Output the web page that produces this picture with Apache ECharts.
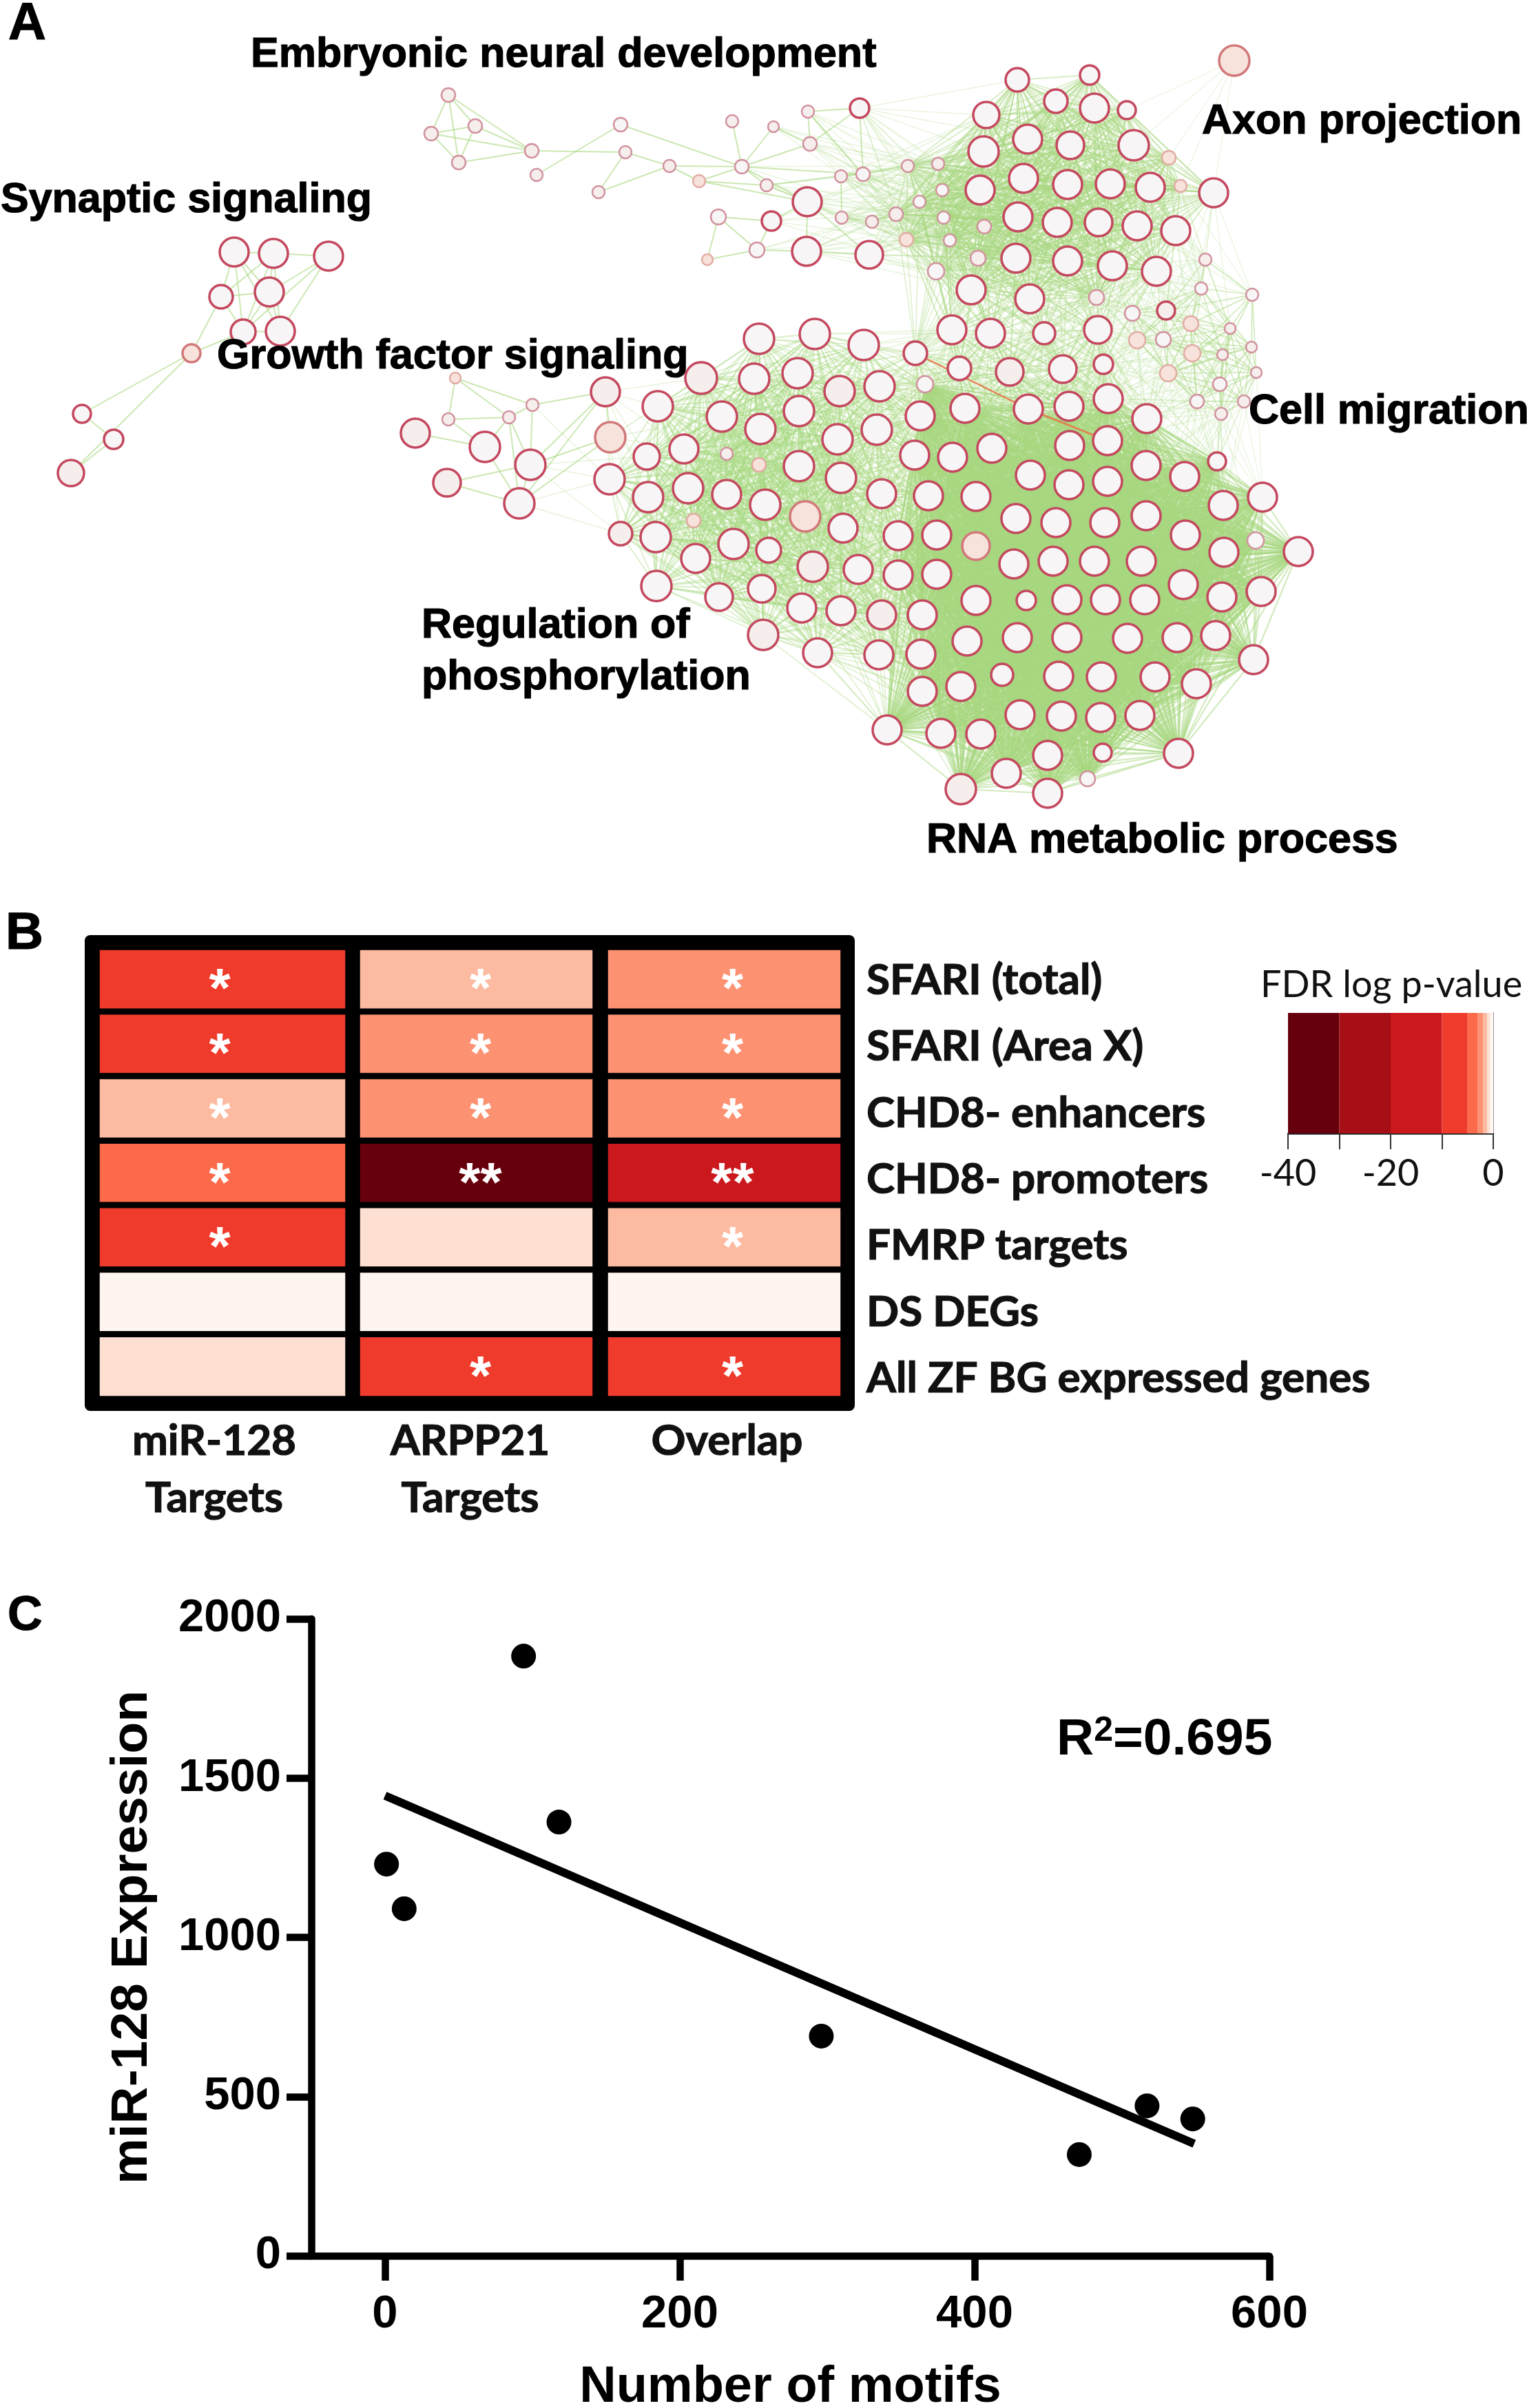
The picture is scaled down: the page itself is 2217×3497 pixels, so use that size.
<!DOCTYPE html>
<html><head><meta charset="utf-8">
<style>html,body{margin:0;padding:0;background:#fff}#c{width:2217px;height:3497px}</style>
<script src="https://cdn.jsdelivr.net/npm/echarts@6/dist/echarts.min.js"></script>
</head><body><div id="c"></div>
<script>
// ---------- Panel A: network nodes: [x, y, size, shade]
const embryonic=[[651,138,10,1],[690,183,10,1],[626,194,10,1],[772,219,10,1],[666,236,10,1],[779,254,9,1],[901,181,10,0],[908,221,9,1],[972,241,9,1],[1015,263,9,2],[869,279,9,1],[1063,176,9,1],[1077,242,10,0],[1123,184,8,1],[1173,162,9,1],[1248,157,14,0],[1176,209,10,1],[1113,269,9,1],[1221,256,9,1],[1253,253,10,0],[1043,315,11,0],[1027,377,8,2],[1120,321,14,0],[1099,363,11,0],[1172,293,21,0],[1171,365,21,0],[1262,370,20,0],[1222,316,9,1],[1266,322,9,1]];
const embryonicLinks=[[0,1],[0,2],[0,3],[0,4],[1,2],[1,3],[1,4],[2,3],[2,4],[3,4],[5,6],[6,12],[3,7],[7,8],[7,10],[8,10],[8,9],[8,12],[9,17],[11,12],[12,13],[12,16],[13,16],[14,15],[14,16],[14,19],[15,16],[15,19],[12,19],[12,17],[9,24],[20,22],[20,21],[20,23],[21,23],[22,23],[23,25],[22,24],[24,25],[25,26],[24,27],[18,27],[24,26],[27,28],[12,24],[17,24],[17,18],[18,19],[9,12]];
const synaptic=[[340,366,21,0],[397,368,21,0],[477,372,21,0],[321,431,17,0],[391,424,21,0],[353,482,18,0],[407,481,21,0],[278,513,13,2],[119,601,13,0],[165,638,14,0],[103,687,19,1]];
const synapticLinks=[[0,1],[1,2],[0,3],[0,4],[0,5],[0,6],[1,3],[1,4],[1,5],[1,6],[2,4],[2,6],[2,5],[3,4],[3,5],[3,7],[4,5],[4,6],[5,6],[5,7],[7,8],[7,10],[8,9],[9,10]];
const growth=[[661,549,8,2],[773,588,9,1],[739,606,9,1],[651,609,9,1],[879,569,21,1],[603,629,21,1],[704,649,22,0],[886,635,22,2],[770,675,22,0],[649,701,20,1],[754,731,22,0]];
const growthLinks=[[0,2],[0,3],[0,1],[1,2],[1,4],[2,3],[3,6],[5,6],[2,6],[2,8],[1,8],[2,10],[4,7],[4,8],[4,10],[7,10],[7,8],[9,8],[9,10],[8,10],[6,10]];
const phospho=[[1018,549,23,1],[1102,492,22,0],[1183,485,22,0],[1254,501,22,0],[1095,550,22,0],[1158,542,22,0],[1219,568,22,1],[1277,561,22,0],[955,590,22,0],[1048,605,22,0],[1104,623,22,0],[1160,597,22,0],[1216,638,22,0],[1273,624,22,0],[939,663,19,0],[993,652,21,0],[1055,659,9,1],[1102,675,10,2],[1160,677,22,0],[1221,694,22,0],[1280,717,21,0],[885,696,22,0],[941,722,22,0],[999,709,22,0],[1055,718,21,0],[1111,733,22,0],[1169,750,22,2],[1224,767,21,0],[1007,756,10,2],[901,775,17,1],[952,780,22,0],[1065,790,22,0],[1116,799,18,0],[1010,811,21,0],[1180,823,22,1],[1246,827,21,0],[953,851,22,0],[1044,867,20,0],[1106,855,20,0],[1164,883,21,0],[1221,887,21,0],[1108,922,22,1],[1187,948,21,0],[1280,893,21,1],[1276,951,21,0]];
const rna=[[1343,558,12,0],[1336,604,21,0],[1401,593,21,0],[1493,594,21,0],[1552,590,21,0],[1609,579,21,0],[1665,608,21,0],[1328,661,21,0],[1383,664,21,0],[1440,651,21,0],[1553,647,21,0],[1608,640,21,0],[1348,720,21,0],[1417,721,21,0],[1496,690,21,0],[1552,704,21,0],[1608,699,21,0],[1664,676,21,0],[1720,692,21,0],[1767,670,13,0],[1776,734,21,0],[1833,722,21,0],[1304,778,21,0],[1360,777,21,0],[1475,753,21,0],[1533,759,21,0],[1604,759,21,0],[1664,749,21,0],[1721,777,21,0],[1777,802,21,0],[1823,785,12,0],[1885,801,21,0],[1417,793,20,2],[1472,819,21,0],[1529,815,21,0],[1589,815,21,0],[1657,815,21,0],[1718,849,21,0],[1774,867,21,0],[1831,859,21,0],[1304,835,21,0],[1360,834,21,0],[1417,872,21,0],[1490,872,14,0],[1549,871,21,0],[1605,871,21,0],[1662,871,21,0],[1339,893,21,0],[1404,931,21,0],[1477,926,21,0],[1549,926,21,0],[1637,927,21,0],[1709,926,21,0],[1765,923,21,0],[1820,958,21,0],[1337,950,21,0],[1339,1004,21,0],[1395,997,21,0],[1455,980,16,0],[1537,982,21,0],[1599,983,21,0],[1677,983,21,0],[1737,993,21,0],[1481,1038,21,0],[1541,1040,21,0],[1598,1042,21,0],[1655,1039,21,0],[1288,1060,21,0],[1366,1065,21,0],[1424,1066,21,0],[1521,1097,21,0],[1601,1093,13,0],[1711,1094,21,0],[1461,1123,21,0],[1579,1131,11,0],[1521,1152,21,0],[1395,1146,22,1]];
const mid=[[1329,513,17,0],[1382,479,21,0],[1438,484,21,0],[1516,484,16,0],[1594,479,20,0],[1602,529,14,0],[1543,536,20,0],[1466,540,20,1],[1393,535,17,0]];
const top_=[[1477,116,17,0],[1582,109,14,0],[1533,147,17,0],[1589,157,21,0],[1636,160,13,0],[1432,167,19,0],[1492,202,21,0],[1554,211,20,0],[1646,211,22,0],[1428,220,22,0],[1697,229,10,2],[1423,276,21,0],[1486,259,21,0],[1550,268,21,0],[1612,267,21,0],[1670,272,21,0],[1714,270,9,2],[1762,280,21,0],[1478,315,21,0],[1535,323,21,0],[1595,323,20,0],[1651,328,21,0],[1707,335,21,0],[1429,329,10,1],[1475,375,21,0],[1550,379,21,0],[1615,386,21,0],[1679,394,21,0],[1420,375,11,1],[1359,394,12,0],[1410,421,21,0],[1495,434,21,0],[1592,432,11,1],[1318,241,9,1],[1362,238,9,1],[1368,276,9,0],[1335,293,9,0],[1301,311,10,1],[1370,316,9,0],[1379,349,9,0],[1316,348,10,2]];
const axon=[[1792,88,22,2]];
const migration=[[1644,455,11,0],[1693,451,13,1],[1729,470,11,2],[1750,377,9,1],[1744,419,9,0],[1818,428,9,0],[1786,477,8,1],[1817,504,8,1],[1775,515,8,1],[1731,513,12,2],[1689,493,11,0],[1651,494,12,2],[1824,541,8,1],[1771,558,10,0],[1696,542,12,2],[1738,583,10,0],[1806,583,9,1],[1773,601,9,1]];
// which modules are joined, up to what span, how heavily
const moduleLinks=[['rna','rna',2000,2.2,.5],['phospho','phospho',320,1.8,.42],['phospho','rna',280,1.7,.36],['top','top',320,1.8,.45],['mid','top',260,1.6,.38],['mid','rna',300,1.6,.38],['mid','phospho',260,1.4,.28],['mid','mid',300,1.4,.3],['migration','migration',130,1.7,.5],['migration','top',200,1.3,.25],['migration','mid',250,1.2,.18],['migration','rna',200,1.3,.25],['growth','phospho',170,1.4,.28],['embryonic','top',250,1.4,.25],['axon','top',200,1.2,.25]];
const explicitLinks={embryonic:embryonicLinks,synaptic:synapticLinks,growth:growthLinks};
const redLinks=[['mid',0,'rna',3],['rna',3,'rna',11]];
const networkLabels=[['Embryonic neural development',364,80],['Synaptic signaling',1,291],['Growth factor signaling',315,518],['Axon projection',1745,177],['Cell migration',1813,598],['Regulation of',612,909],['phosphorylation',612,984],['RNA metabolic process',1345,1221]];

// ---------- Panel B
const heatColumns=['miR-128\nTargets','ARPP21\nTargets','Overlap'];
const heatRows=['SFARI (total)','SFARI (Area X)','CHD8- enhancers','CHD8- promoters','FMRP targets','DS DEGs','All ZF BG expressed genes'];
const heatValues=[[-8,-8,-1.8,-4,-8,-0.3,-1],[-1.8,-2.5,-2.5,-35,-1,-0.3,-8],[-2.5,-2.5,-2.5,-15,-1.8,-0.3,-8]];
const heatStars=[['*','*','*','*','*','',''],['*','*','*','**','','','*'],['*','*','*','**','*','','*']];
const bandFrom=[-40,-30,-20,-10,-5,-3,-2,-1.2,-0.6];
const bandTo=[-30,-20,-10,-5,-3,-2,-1.2,-0.6,0];
const bandColors=['#67000d','#a50f15','#cb181d','#ef3b2c','#fb6a4a','#fc9272','#fcbba1','#fee0d2','#fff5f0'];

// ---------- Panel C
const motifs=[1,13,94,118,296,471,517,548];
const expression=[1230,1090,1883,1362,690,318,471,430];
const fitX=[0,549];
const fitY=[1445,352];

// ---------- build network
const mods={embryonic,synaptic,growth,phospho,rna,mid,top:top_,axon,migration};
const nodes=[],offs={};
const fills=['#f7f5f5','#f6eeec','#f7e3dc'];
for(const m in mods){offs[m]=nodes.length;mods[m].forEach(n=>{
  const small=n[2]<=12;
  nodes.push({value:[n[0],n[1]],symbolSize:n[2]*2,itemStyle:{color:fills[n[3]],
    borderColor:small?(n[3]==2?'#e2aca4':'#d2929f'):(n[3]==2?'#d2787a':'#c4485f'),borderWidth:small?2.5:3.5}});
});}
const links=[];
const GREEN='#a8d880';
for(const m in explicitLinks)explicitLinks[m].forEach(l=>links.push({source:offs[m]+l[0],target:offs[m]+l[1],lineStyle:{color:GREEN,width:2,opacity:.6}}));
moduleLinks.forEach(([a,b,maxD,w,op])=>{
  mods[a].forEach((p,i)=>mods[b].forEach((q,j)=>{
    if(a===b&&j<=i)return;
    if(Math.hypot(p[0]-q[0],p[1]-q[1])<maxD)links.push({source:offs[a]+i,target:offs[b]+j,lineStyle:{color:GREEN,width:w,opacity:op}});
  }));
});
redLinks.forEach(r=>links.push({source:offs[r[0]]+r[1],target:offs[r[2]]+r[3],lineStyle:{color:'#e8764a',width:2.5,opacity:.9}}));

// ---------- build option
const colorOf=v=>{for(let i=0;i<bandFrom.length;i++)if(v>=bandFrom[i]&&v<bandTo[i])return bandColors[i];return bandColors[8];};
const colLeft=[140.5,518.5,878.5],colWidth=[365,346,346];
const colLabelPad=[[0,24,0,0],[0,18,0,0],[0,0,0,8]];
const starOffset=[[-4,18],[6,18],[12,18]];
const LATO='Lato',ARIAL='"Liberation Sans"';
const grids=[],xAxes=[],yAxes=[],series=[];
const hidden=(extra)=>Object.assign({show:false},extra);
const fixedGrid=(g)=>Object.assign({outerBoundsMode:'none',containLabel:false},g);

// grid 0 network
grids.push(fixedGrid({left:0,top:0,width:2217,height:1300}));
xAxes.push(hidden({type:'value',min:0,max:2217,gridIndex:0}));
yAxes.push(hidden({type:'value',min:0,max:1300,inverse:true,gridIndex:0}));
series.push({type:'graph',coordinateSystem:'cartesian2d',xAxisIndex:0,yAxisIndex:0,layout:'none',silent:true,data:nodes,links:links,edgeSymbol:['none','none'],label:{show:false},z:2});

// grids 1-3 heat columns
heatColumns.forEach((c,i)=>{
  const g=grids.length;
  grids.push(fixedGrid({left:colLeft[i],top:1375.5,width:colWidth[i],height:656}));
  xAxes.push({type:'category',gridIndex:g,data:[c],axisLine:{show:false},axisTick:{show:false},splitLine:{show:false},
    axisLabel:{show:true,interval:0,margin:20,color:'#111',fontFamily:LATO,fontWeight:'bold',fontSize:62,lineHeight:83,padding:colLabelPad[i],textBorderColor:'#111',textBorderWidth:1.2}});
  yAxes.push(hidden({type:'category',gridIndex:g,data:heatRows,inverse:true}));
  series.push({type:'heatmap',xAxisIndex:g,yAxisIndex:g,silent:true,
    data:heatValues[i].map((v,r)=>({value:[0,r,v],itemStyle:{color:colorOf(v),borderColor:'#000',borderWidth:9}})),
    label:{show:true,color:'#fff',fontFamily:ARIAL,fontWeight:'bold',fontSize:80,offset:starOffset[i],formatter:p=>heatStars[i][p.value[1]]},z:3});
});

// grid 4 row labels
grids.push(fixedGrid({left:1250,top:1376,width:3,height:674}));
xAxes.push(hidden({type:'value',gridIndex:4,min:0,max:1}));
yAxes.push({type:'category',gridIndex:4,data:heatRows,inverse:true,position:'right',axisLine:{show:false},axisTick:{show:false},splitLine:{show:false},
  axisLabel:{interval:0,margin:5,align:'left',color:'#111',fontFamily:LATO,fontWeight:'bold',fontSize:62,textBorderColor:'#111',textBorderWidth:1.2}});

// grid 5 colour bar
grids.push(fixedGrid({left:1870,top:1471,width:298,height:175}));
xAxes.push({type:'value',gridIndex:5,min:-40,max:0,interval:10,splitLine:{show:false},
  axisLine:{show:true,onZero:false,lineStyle:{color:'#222',width:2.5}},axisTick:{show:true,length:23,lineStyle:{color:'#333',width:2}},
  axisLabel:{margin:32,color:'#111',fontFamily:LATO,fontSize:54,formatter:v=>v%20===0?String(v):''}});
yAxes.push({type:'value',gridIndex:5,min:0,max:1,position:'right',splitLine:{show:false},axisTick:{show:false},axisLabel:{show:false},
  axisLine:{show:true,onZero:false,lineStyle:{color:'#999',width:2}}});
series.push({type:'custom',xAxisIndex:5,yAxisIndex:5,silent:true,clip:false,data:bandFrom.map((f,i)=>[f,bandTo[i],i]),
  renderItem:(p,api)=>{const a=api.coord([api.value(0),1]),b=api.coord([api.value(1),0]);
    return {type:'rect',shape:{x:a[0],y:a[1],width:b[0]-a[0],height:b[1]-a[1]},style:{fill:bandColors[api.value(2)]}};},z:1});

// grid 6 scatter
const axisStyle={color:'#000',width:10.5};
const plain=v=>String(v);
grids.push(fixedGrid({left:452,top:2351,width:1391,height:925}));
xAxes.push({type:'value',gridIndex:6,min:-50,max:600,splitLine:{show:false},
  axisLine:{show:true,onZero:false,lineStyle:axisStyle},axisTick:{show:true,length:36,lineStyle:axisStyle,customValues:[0,200,400,600]},
  axisLabel:{margin:52,color:'#000',fontFamily:ARIAL,fontWeight:'bold',fontSize:67,customValues:[0,200,400,600],formatter:plain},
  name:'Number of motifs',nameLocation:'middle',nameGap:155,nameTextStyle:{color:'#000',fontFamily:ARIAL,fontWeight:'bold',fontSize:74}});
yAxes.push({type:'value',gridIndex:6,min:0,max:2000,interval:500,splitLine:{show:false},
  axisLine:{show:true,onZero:false,lineStyle:axisStyle},axisTick:{show:true,length:36,lineStyle:axisStyle},
  axisLabel:{margin:44,color:'#000',fontFamily:ARIAL,fontWeight:'bold',fontSize:67,formatter:plain},
  name:'miR-128 Expression',nameLocation:'middle',nameGap:222,nameTextStyle:{color:'#000',fontFamily:ARIAL,fontWeight:'bold',fontSize:75}});
series.push({type:'line',xAxisIndex:6,yAxisIndex:6,silent:true,symbol:'none',data:fitX.map((x,i)=>[x,fitY[i]]),lineStyle:{color:'#000',width:12,cap:'butt'},z:3});
series.push({type:'scatter',xAxisIndex:6,yAxisIndex:6,silent:true,symbolSize:36,data:motifs.map((x,i)=>[x,expression[i]]),itemStyle:{color:'#000',opacity:1},z:4});

const txt=(text,x,y,font,extra)=>({type:'text',z:20,style:Object.assign({text,x,y,font,fill:'#000',textAlign:'left',textVerticalAlign:'middle'},extra||{})});
const heavy={stroke:'#000',lineWidth:1.2};
const graphics=[
  {type:'rect',z:1,shape:{x:123,y:1358,width:1118,height:691,r:8},style:{fill:'#000'}},
  txt('A',12,36,'bold 76px "Liberation Sans"',heavy),
  txt('B',8,1357,'bold 76px "Liberation Sans"',heavy),
  txt('C',11,2348,'bold 70px "Liberation Sans"',heavy),
  txt('FDR log p-value',1830,1431,'54px Lato',{fill:'#111'}),
  txt('{a|R}{s|2}{a|=0.695}',1534,2527,'bold 75px "Liberation Sans"',{rich:{
    a:{fontFamily:'Liberation Sans',fontWeight:'bold',fontSize:75,fill:'#000'},
    s:{fontFamily:'Liberation Sans',fontWeight:'bold',fontSize:50,verticalAlign:'top',fill:'#000'}}}),
  ...networkLabels.map(l=>txt(l[0],l[1],l[2],'bold 61px "Liberation Sans"',heavy))
];

const chart=echarts.init(document.getElementById('c'),null,{renderer:'canvas',width:2217,height:3497});
chart.setOption({animation:false,backgroundColor:'#fff',grid:grids,xAxis:xAxes,yAxis:yAxes,series:series,graphic:{elements:graphics}});
</script></body></html>
